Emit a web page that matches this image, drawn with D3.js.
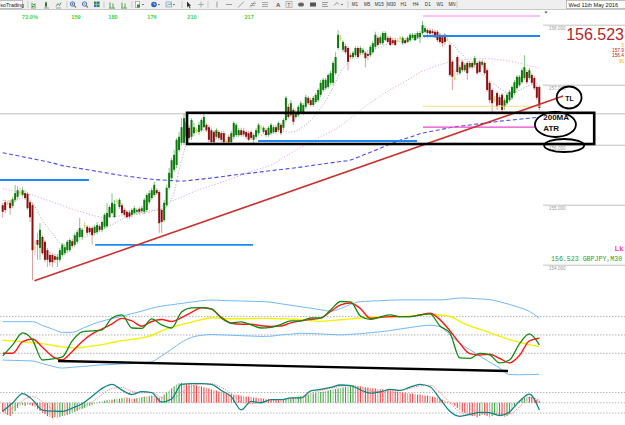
<!DOCTYPE html>
<html><head><meta charset="utf-8">
<script src="https://cdn.jsdelivr.net/npm/d3@7"></script>
<style>
html,body{margin:0;padding:0;background:#fff;}
svg{display:block;font-family:"Liberation Sans",Arial,sans-serif;}
</style></head><body>
<svg id="c" width="625" height="425"></svg>
<script>
// ---------------- DATA ----------------
// GBPJPY candles [open, high, low, close], oldest first
const ohlc = [
[155.00,155.04,154.79,154.89],[155.05,155.09,154.87,154.92],[155.04,155.07,155.00,155.03],[155.04,155.09,154.84,154.95],
[154.99,155.14,154.95,155.10],[155.09,155.34,155.05,155.20],[155.14,155.32,155.10,155.25],[155.22,155.29,155.17,155.21],
[155.17,155.30,155.14,155.25],[155.20,155.25,155.09,155.12],[155.19,155.22,154.92,154.95],[155.05,155.09,154.72,154.80],
[155.00,155.04,153.75,154.25],[154.30,154.42,154.17,154.29],[154.42,154.54,154.09,154.34],[154.29,154.70,154.09,154.59],
[154.47,154.50,154.17,154.20],[154.39,154.42,154.05,154.09],[154.25,154.29,153.97,154.09],[154.17,154.22,153.99,154.05],
[154.17,154.20,153.97,154.05],[154.15,154.19,154.04,154.09],[154.09,154.19,153.97,154.14],[154.09,154.29,154.05,154.25],
[154.17,154.37,154.14,154.34],[154.20,154.34,154.17,154.30],[154.25,154.42,154.20,154.39],[154.25,154.45,154.22,154.42],
[154.40,154.44,154.29,154.32],[154.34,154.54,154.30,154.50],[154.39,154.59,154.35,154.55],[154.47,154.79,154.45,154.62],
[154.47,154.62,154.42,154.59],[154.67,154.72,154.62,154.65],[154.64,154.67,154.50,154.54],[154.62,154.65,154.52,154.55],
[154.62,154.65,154.34,154.50],[154.54,154.67,154.50,154.64],[154.55,154.72,154.52,154.67],[154.65,154.69,154.55,154.59],
[154.59,154.75,154.55,154.72],[154.64,154.87,154.60,154.84],[154.65,155.04,154.62,154.87],[154.80,155.00,154.79,154.97],
[154.87,155.20,154.84,155.04],[154.80,155.09,154.79,155.02],[155.07,155.10,155.02,155.05],[154.97,155.12,154.94,155.09],
[155.00,155.04,154.84,154.87],[154.92,154.95,154.80,154.84],[154.89,154.92,154.77,154.80],[154.88,154.92,154.77,154.81],
[154.84,154.95,154.80,154.92],[154.87,154.99,154.84,154.95],[154.89,154.95,154.85,154.92],[154.94,154.97,154.85,154.89],
[154.90,154.99,154.87,154.95],[154.89,155.12,154.85,155.09],[154.92,155.20,154.89,155.17],[155.05,155.25,155.02,155.20],
[155.12,155.29,155.09,155.25],[155.17,155.39,155.14,155.34],[155.25,155.29,155.17,155.20],[155.22,155.25,154.54,154.70],
[154.92,154.95,154.54,154.72],[154.75,155.09,154.72,155.04],[155.00,155.34,154.97,155.29],[155.29,155.62,155.25,155.54],
[155.45,155.79,155.42,155.75],[155.59,155.92,155.55,155.84],[155.67,156.12,155.62,156.09],[155.92,156.22,155.89,156.14],
[156.04,156.45,156.00,156.30],[156.04,156.53,156.00,156.45],[156.14,156.47,156.09,156.39],[156.29,156.34,156.09,156.12],
[156.14,156.45,156.09,156.42],[156.20,156.37,156.15,156.30],[156.25,156.29,156.20,156.24],[156.22,156.39,156.17,156.34],
[156.25,156.45,156.22,156.42],[156.30,156.53,156.29,156.47],[156.34,156.37,156.22,156.25],[156.30,156.34,156.05,156.09],
[156.25,156.29,156.04,156.05],[156.22,156.25,156.04,156.05],[156.14,156.29,156.10,156.25],[156.22,156.25,156.07,156.12],
[156.20,156.24,156.05,156.09],[156.20,156.24,156.04,156.05],[156.07,156.10,156.04,156.06],[156.14,156.17,156.04,156.05],
[156.05,156.24,156.04,156.20],[156.14,156.40,156.10,156.37],[156.17,156.37,156.14,156.34],[156.17,156.29,156.14,156.25],
[156.25,156.29,156.14,156.17],[156.24,156.29,156.14,156.18],[156.22,156.25,156.10,156.14],[156.20,156.24,156.07,156.09],
[156.22,156.25,156.09,156.12],[156.09,156.20,156.04,156.17],[156.14,156.29,156.10,156.25],[156.20,156.37,156.17,156.34],
[156.30,156.34,156.25,156.29],[156.22,156.32,156.19,156.29],[156.25,156.29,156.14,156.17],[156.17,156.32,156.14,156.29],
[156.20,156.37,156.17,156.34],[156.22,156.34,156.19,156.30],[156.30,156.34,156.19,156.22],[156.25,156.40,156.22,156.37],
[156.34,156.37,156.17,156.20],[156.29,156.45,156.25,156.42],[156.42,156.82,156.39,156.79],[156.64,156.69,156.44,156.47],
[156.50,156.75,156.47,156.70],[156.59,156.62,156.34,156.39],[156.47,156.59,156.44,156.55],[156.50,156.67,156.47,156.64],
[156.55,156.74,156.52,156.70],[156.54,156.70,156.50,156.67],[156.64,156.84,156.60,156.80],[156.79,156.82,156.67,156.70],
[156.75,156.79,156.64,156.67],[156.67,156.82,156.64,156.79],[156.72,156.87,156.69,156.84],[156.75,156.95,156.72,156.92],
[156.84,157.09,156.80,157.04],[156.92,157.12,156.89,157.09],[156.95,157.12,156.92,157.09],[156.97,157.20,156.94,157.17],
[157.04,157.24,157.00,157.20],[157.04,157.40,157.00,157.37],[157.20,157.55,157.17,157.47],[157.62,157.92,157.59,157.84],
[157.77,157.84,157.74,157.79],[157.59,157.75,157.55,157.72],[157.65,157.69,157.52,157.55],[157.62,157.65,157.25,157.39],
[157.50,157.54,157.44,157.47],[157.47,157.57,157.44,157.54],[157.50,157.65,157.47,157.62],[157.62,157.65,157.44,157.47],
[157.54,157.65,157.50,157.62],[157.54,157.62,157.50,157.59],[157.54,157.57,157.30,157.45],[157.52,157.55,157.42,157.49],
[157.50,157.67,157.47,157.64],[157.55,157.74,157.52,157.70],[157.64,157.89,157.60,157.84],[157.79,157.82,157.64,157.67],
[157.70,157.84,157.67,157.80],[157.70,157.90,157.67,157.87],[157.75,157.90,157.74,157.87],[157.79,157.82,157.70,157.72],
[157.79,157.82,157.65,157.67],[157.75,157.79,157.67,157.70],[157.75,157.79,157.65,157.67],[157.75,157.79,157.72,157.74],
[157.79,157.82,157.75,157.78],[157.70,157.82,157.67,157.79],[157.75,157.79,157.69,157.70],[157.72,157.82,157.70,157.79],
[157.75,157.87,157.72,157.84],[157.79,157.87,157.77,157.84],[157.75,157.87,157.74,157.84],[157.79,157.90,157.77,157.87],
[157.80,157.90,157.70,157.87],[157.87,158.07,157.84,158.00],[157.89,157.99,157.87,157.95],[157.92,157.95,157.84,157.87],
[157.91,157.95,157.84,157.86],[157.90,157.94,157.84,157.87],[157.89,157.92,157.79,157.80],[157.89,157.92,157.72,157.75],
[157.84,157.87,157.69,157.72],[157.80,157.84,157.64,157.70],[157.84,157.87,157.67,157.72],[157.77,157.80,157.74,157.76],
[157.67,157.70,157.14,157.17],[157.39,157.42,156.92,157.14],[157.12,157.25,157.09,157.11],[157.47,157.50,157.17,157.22],
[157.20,157.34,157.17,157.30],[157.39,157.42,157.22,157.25],[157.25,157.37,157.22,157.34],[157.37,157.40,157.09,157.20],
[157.30,157.40,157.27,157.37],[157.37,157.40,157.27,157.30],[157.34,157.49,157.30,157.45],[157.37,157.40,157.17,157.20],
[157.39,157.42,157.20,157.22],[157.34,157.42,157.30,157.39],[157.37,157.40,157.17,157.20],[157.25,157.29,156.89,156.92],
[157.04,157.07,156.70,156.75],[156.92,156.95,156.55,156.70],[156.77,156.82,156.72,156.75],[156.87,156.90,156.59,156.64],
[156.80,156.84,156.64,156.67],[156.84,156.87,156.55,156.59],[156.64,156.79,156.59,156.75],[156.70,156.87,156.67,156.84],
[156.75,156.92,156.72,156.89],[156.79,157.00,156.75,156.97],[156.87,157.09,156.84,157.05],[156.95,157.17,156.92,157.14],
[157.00,157.17,156.97,157.14],[157.05,157.29,157.02,157.25],[157.12,157.50,157.09,157.30],[157.22,157.25,157.02,157.05],
[157.12,157.29,157.09,157.25],[157.17,157.20,157.00,157.04],[157.12,157.15,156.92,156.95],[156.97,157.00,156.75,156.79],
[156.97,157.00,156.58,156.62]
];
const lastPrice = 156.523;
const symbolLabel = "156.523 GBPJPY,M30";
const gridPrices = [158, 157, 156, 155, 154];
const sideSmall = ["5", "157.9", "156.4", "96"];

// indicator samples, one every 4th bar (bar 0, 4, 8 ... 216)
const ma200  = [155.875,155.842,155.808,155.775,155.740,155.707,155.660,155.633,155.605,155.578,155.550,155.522,155.495,155.473,155.452,155.432,155.420,155.410,155.402,155.418,155.435,155.453,155.475,155.497,155.517,155.535,155.555,155.575,155.595,155.615,155.635,155.658,155.682,155.705,155.728,155.752,155.817,155.883,155.950,156.017,156.083,156.133,156.192,156.227,156.258,156.292,156.317,156.337,156.358,156.378,156.400,156.417,156.433,156.450,156.467];
const maSlow = [155.274,155.239,155.204,155.167,155.112,155.054,154.995,154.934,154.884,154.834,154.800,154.810,154.822,154.834,154.859,154.895,154.984,155.067,155.134,155.209,155.275,155.325,155.384,155.442,155.500,155.559,155.609,155.667,155.767,155.867,155.967,156.059,156.142,156.225,156.325,156.450,156.584,156.709,156.817,156.925,157.017,157.109,157.217,157.284,157.342,157.384,157.417,157.434,157.442,157.442,157.425,157.400,157.367,157.325,157.284];
const maFast = [155.083,155.067,155.117,155.033,154.750,154.533,154.350,154.383,154.450,154.517,154.600,154.675,154.767,154.850,154.883,154.908,154.933,155.100,155.750,156.217,156.250,156.233,156.200,156.167,156.167,156.183,156.167,156.200,156.233,156.217,156.283,156.417,156.617,156.883,157.217,157.417,157.533,157.583,157.633,157.700,157.733,157.750,157.783,157.800,157.783,157.717,157.550,157.383,157.217,157.083,156.950,156.867,156.917,157.000,157.033];

const rsiFast = [27.1,39.1,52.2,44.5,22.7,23.8,26.0,43.5,53.3,54.4,55.5,68.5,71.8,57.6,57.1,67.5,60.9,57.6,75.1,79.5,79.8,78.4,68.5,63.1,64.2,60.9,57.6,58.2,61.5,65.3,65.3,68.5,68.5,77.3,86.5,86.0,70.7,66.9,69.6,71.8,70.0,70.0,71.8,72.9,59.8,52.2,24.9,24.4,29.8,28.2,19.5,22.7,40.2,51.1,39.1];
const rsiSlow = [30.0,30.0,42.7,45.6,36.5,26.7,22.9,32.0,42.9,51.1,56.5,62.2,68.1,65.3,59.5,64.7,66.8,64.7,69.0,74.7,79.7,78.1,69.1,62.8,61.7,61.7,60.1,59.3,59.8,63.1,65.3,66.9,68.3,75.6,82.7,84.9,78.7,68.2,69.2,70.0,70.0,70.0,71.8,73.7,66.7,54.6,40.9,29.6,28.2,28.9,24.6,19.5,27.6,43.5,46.4];
const rsiAvg  = [44.3,43.5,42.5,41.6,40.5,38.7,37.0,35.9,36.3,37.9,39.5,41.7,43.8,45.2,46.8,49.7,54.4,58.5,61.2,64.0,66.7,68.8,68.1,67.6,67.7,67.9,68.1,68.0,67.7,67.3,66.9,65.7,64.8,65.6,66.5,67.5,68.5,69.4,69.6,69.9,70.0,70.8,71.8,72.7,71.7,70.1,64.8,59.8,56.3,52.6,48.7,44.9,42.0,39.5,37.2];
const bandUp  = [64.5,64.5,64.5,64.5,60.3,56.5,52.9,52.8,57.0,61.5,65.1,67.8,70.5,73.2,76.0,79.1,81.5,82.9,84.4,85.9,87.3,88.1,87.6,87.3,87.0,86.7,86.4,85.7,84.0,82.4,80.8,79.1,77.5,75.9,78.7,83.3,86.4,86.9,87.4,87.9,88.2,88.2,88.2,88.2,88.2,89.1,90.3,90.1,89.3,88.6,86.2,83.3,79.9,75.7,68.3];
const bandLow = [22.6,22.3,22.0,21.6,18.7,15.9,13.9,14.8,15.6,16.5,17.4,17.8,18.4,18.8,19.3,20.8,27.2,34.5,42.1,47.4,49.6,50.5,50.1,49.7,49.2,48.8,48.4,48.6,50.1,50.8,51.9,51.5,51.1,50.5,50.1,50.7,51.3,52.5,53.4,54.8,56.5,58.1,59.7,60.6,59.1,49.9,40.8,34.0,27.0,20.4,14.0,6.8,6.6,6.8,7.1];
const rsiLevels = [30, 50, 70];

const macdLine = [-0.80,-0.03,0.90,0.30,-0.72,-0.82,-0.84,-0.52,-0.10,0.63,1.40,1.80,1.23,0.80,1.08,0.99,0.07,0.37,1.80,1.87,1.87,1.80,1.20,0.60,-0.70,0.13,0.00,0.30,0.30,0.47,0.47,1.15,1.30,1.49,1.73,1.67,1.26,0.94,1.06,1.30,1.20,1.53,1.80,1.56,0.38,-0.83,-1.32,-1.14,-0.93,-0.97,-1.25,-0.90,0.14,0.84,-0.70];
const macdSignal = [-0.9,-0.5,0.2,0.6,0.1,-0.6,-0.8,-0.7,-0.4,0.1,0.8,1.4,1.5,1.1,0.95,1.0,0.5,0.3,1.0,1.6,1.85,1.85,1.5,0.9,0.1,-0.1,0.05,0.2,0.3,0.4,0.45,0.9,1.2,1.4,1.6,1.7,1.5,1.15,1.05,1.2,1.2,1.4,1.65,1.7,1.0,0.0,-0.9,-1.2,-1.1,-1.0,-1.1,-1.1,-0.4,0.5,0.3];
// histogram, one value per bar
const macdHist = [
-0.9,-1.1,-1.2,-1.3,-1.1,-0.8,
-0.5,-0.3,-0.2,-0.3,-0.2,-0.2,-0.3,-0.4,
-0.6,-0.8,-1.0,-1.1,-1.3,-1.4,-1.5,-1.4,-1.5,-1.4,-1.3,-1.3,-1.2,-1.1,
-1.0,-0.9,-0.8,-0.7,-0.6,-0.5,-0.4,-0.3,
-0.2,-0.1,0.0,0.1,0.15,0.2,0.25,0.3,
0.3,0.35,0.4,0.4,0.45,0.5,0.5,0.45,0.4,0.4,0.45,0.5,0.55,0.6,0.6,0.65,0.7,0.7,0.6,
0.5,0.6,0.8,1.0,1.2,1.4,1.6,1.8,1.9,1.95,1.9,1.85,1.8,
1.8,1.75,1.7,1.65,1.6,1.5,1.45,1.4,1.3,1.25,1.2,1.1,1.05,1.0,0.95,0.9,0.85,0.8,0.8,0.75,
0.7,0.65,0.6,0.6,0.55,0.5,0.5,0.45,0.45,0.4,0.4,0.35,0.35,0.3,0.3,0.3,0.25,
0.3,0.35,0.4,0.45,0.5,0.55,0.6,0.65,
0.7,0.75,0.8,0.85,0.9,0.95,1.0,1.05,1.1,1.15,1.2,1.25,1.3,1.35,1.4,1.45,1.5,1.55,1.6,1.65,1.7,
1.65,1.6,1.6,1.55,1.5,1.5,1.45,1.4,1.4,1.35,1.3,1.3,1.25,1.2,1.2,1.15,1.1,1.1,1.05,1.0,1.0,0.95,0.9,0.9,0.85,0.8,0.8,0.75,0.7,0.7,0.65,0.6,0.55,0.5,0.4,
0.3,0.2,0.1,0.0,-0.1,
-0.3,-0.5,-0.7,-0.9,-1.0,-1.1,-1.2,-1.3,-1.3,-1.4,-1.3,-1.2,-1.2,-1.3,-1.4,-1.3,-1.2,-1.1,-1.2,-1.3,-1.4,-1.3,-1.1,
-0.7,-0.3,0.0,0.2,0.4,0.5,0.6,0.6,0.55,
0.4,0.3,0.2];
const macdLevels = [1, 0, -1];

// drawn objects (bar index, price)
const levelPrices = [155.42, 154.34, 156.07, 157.82];
const levelFrom   = [-1.5, 37.2, 102.8, 169.2];
const levelTo     = [34.7, 100.8, 166.8, 216.3];
const trendLine   = [[12.8, 153.74], [225.6, 156.82]];
const zoneBars    = [74.2, 238.1];
const zonePrices  = [156.54, 156.02];
const yellowLevel = {price: 156.65, from: 169.2, to: 216.3};
const pinkLevel   = {price: 156.30, from: 169.2, to: 214.3};
const topLevel    = {price: 158.153, from: 169.2, to: 216.3};
const noteEllipses = [[228.0, 156.795, 5.0, 0.183], [222.5, 156.345, 8.25, 0.208], [226.0, 155.995, 8.05, 0.108]];
const noteTexts = ["TL", "200MA", "ATR"];
const noteBars  = [226.4, 217.6, 217.6];
const notePrices= [156.74, 156.425, 156.245];
const rsiTrend = [[22.3, 21.6], [203.4, 10.7]];

const countLabels = ["72.0%", "159", "180", "176", "210", "217"];
const countBars   = [11, 29.5, 44.4, 60.1, 76.2, 99.2];
const timeframes = ["M1","M5","M15","M30","H1","H4","D1","W1","MN"];
const dateLabel = "Wed 11th May 2016";

// ---------------- SCALES ----------------
const svg = d3.select('#c');
const sampleBars = d3.range(0, 217, 4);
const x  = d3.scaleLinear().domain([0, 216]).range([2.7, 539.3]);
const y  = d3.scaleLinear().domain([154, 158]).range([265.2, 25.2]);
const yR = d3.scaleLinear().domain([0, 100]).range([380.8, 289.1]);
const yM = d3.scaleLinear().domain([-1, 1]).range([413, 392.5]);

svg.append('rect').attr('width', 625).attr('height', 425).attr('fill', '#fff');

// ---------------- TOOLBAR ----------------
const tb = svg.append('g');
tb.append('rect').attr('x', 0).attr('y', 0).attr('width', 625).attr('height', 9).attr('fill', '#efefef');
tb.append('line').attr('x1', 0).attr('x2', 625).attr('y1', 9.5).attr('y2', 9.5).attr('stroke', '#c8c8c8');
tb.append('rect').attr('x', -1).attr('y', 0.5).attr('width', 23.5).attr('height', 8).attr('fill', '#f8f8f8').attr('stroke', '#999').attr('stroke-width', 0.6);
tb.append('text').attr('x', 0.3).attr('y', 6.6).attr('font-size', 5.4).attr('fill', '#222').text('soTrading');
[28, 67, 104, 132, 182, 208, 348].forEach(sx => tb.append('line').attr('x1', sx).attr('x2', sx).attr('y1', 1).attr('y2', 8).attr('stroke', '#bbb').attr('stroke-width', 0.7));
function icon(ix, kind) {
  const gI = tb.append('g').attr('transform', `translate(${ix},1.5)`);
  const st = (c, w) => ({stroke: c, 'stroke-width': w || 0.8, fill: 'none'});
  const ap = (el, o) => { Object.entries(o).forEach(([k, v]) => el.attr(k, v)); return el; };
  if (kind === 'bar') { ap(gI.append('path').attr('d', 'M1,6V1M1,5H3M4,6V2M4,3H2'), st('#2a8a2a')); ap(gI.append('path').attr('d','M0,6.5H5'), st('#555',0.5)); }
  if (kind === 'cndl') { gI.append('rect').attr('x', 1).attr('y', 1).attr('width', 2).attr('height', 4).attr('fill', '#2a8a2a'); ap(gI.append('path').attr('d','M2,0V6M0,6.5H5'), st('#444',0.5)); }
  if (kind === 'lin') { ap(gI.append('path').attr('d', 'M0,5L2,2L3.5,4L5,1'), st('#2a8a2a')); ap(gI.append('path').attr('d','M0,6.5H5'), st('#444',0.5)); }
  if (kind === 'zin' || kind === 'zout') { ap(gI.append('circle').attr('cx', 2.5).attr('cy', 2.5).attr('r', 2.2), st('#3a6fb0', 0.9)); ap(gI.append('path').attr('d', kind === 'zin' ? 'M1.3,2.5H3.7M2.5,1.3V3.7' : 'M1.3,2.5H3.7'), st('#3a6fb0', 0.7)); ap(gI.append('path').attr('d', 'M4,4L6,6'), st('#a07030', 1.1)); }
  if (kind === 'grid') { [['#2a9a2a',0,0],['#3a6fd0',3,0],['#3a6fd0',0,3],['#2a9a2a',3,3]].forEach(t => gI.append('rect').attr('x', t[1]).attr('y', t[2]).attr('width', 2.6).attr('height', 2.6).attr('fill', t[0])); }
  if (kind === 'shift') { ap(gI.append('path').attr('d', 'M1,6V1M4,6V2M0,6.5H6'), st('#2a8a2a')); }
  if (kind === 'new') { gI.append('rect').attr('x', 0.5).attr('y', 0).attr('width', 4).attr('height', 6).attr('fill', '#fff').attr('stroke', '#777').attr('stroke-width', 0.5); gI.append('rect').attr('x', 2).attr('y', 3).attr('width', 3).attr('height', 3).attr('fill', '#2a9a2a'); gI.append('path').attr('d', 'M7,2.5L9,2.5L8,3.7Z').attr('fill', '#333'); }
  if (kind === 'clock') { gI.append('circle').attr('cx', 3).attr('cy', 3).attr('r', 2.8).attr('fill', '#2a64c0'); ap(gI.append('path').attr('d', 'M3,1.2V3H4.5'), st('#fff', 0.6)); gI.append('path').attr('d', 'M7,2.5L9,2.5L8,3.7Z').attr('fill', '#333'); }
  if (kind === 'tmpl') { gI.append('rect').attr('x', 0).attr('y', 0.5).attr('width', 5.5).attr('height', 5).attr('fill', '#e8f0ff').attr('stroke', '#5577aa').attr('stroke-width', 0.5); ap(gI.append('path').attr('d', 'M1,4L2.5,2.5L4,3.5L5,1.5'), st('#2a8a2a', 0.6)); gI.append('path').attr('d', 'M7,2.5L9,2.5L8,3.7Z').attr('fill', '#333'); }
  if (kind === 'arrow') { gI.append('path').attr('d', 'M1,0L1,6L2.5,4.5L3.8,7L4.6,6.6L3.4,4.2L5.2,4.2Z').attr('fill', '#333'); }
  if (kind === 'cross') { ap(gI.append('path').attr('d', 'M3,0V6M0,3H6'), st('#888', 0.6)); }
  if (kind === 'vl') { ap(gI.append('path').attr('d', 'M3,0V6'), st('#777', 0.7)); }
  if (kind === 'hl') { ap(gI.append('path').attr('d', 'M0,3H6'), st('#777', 0.7)); }
  if (kind === 'tl') { ap(gI.append('path').attr('d', 'M0,6L6,0'), st('#777', 0.7)); }
  if (kind === 'fib') { ap(gI.append('path').attr('d', 'M0,6L5,0M1,2H6M0,4H5'), st('#777', 0.6)); }
  if (kind === 'chan') { ap(gI.append('path').attr('d', 'M0,1H6M0,3H6M0,5H6'), st('#777', 0.6)); }
  if (kind === 'A') { gI.append('text').attr('x', 1).attr('y', 5.5).attr('font-size', 6).attr('font-weight', 'bold').attr('fill', '#555').text('A'); }
  if (kind === 'T') { gI.append('rect').attr('x', 0).attr('y', 0).attr('width', 6).attr('height', 6).attr('fill', 'none').attr('stroke', '#888').attr('stroke-width', 0.5); gI.append('text').attr('x', 1.2).attr('y', 5.2).attr('font-size', 5.5).attr('fill', '#555').text('T'); }
  if (kind === 'ell') { gI.append('ellipse').attr('cx', 3).attr('cy', 3).attr('rx', 3).attr('ry', 2).attr('fill', '#666'); }
  if (kind === 'rect') { gI.append('rect').attr('x', 0).attr('y', 1).attr('width', 6).attr('height', 4).attr('fill', '#555'); }
  if (kind === 'lines') { ap(gI.append('path').attr('d', 'M0,1H6M0,3H5M0,5H6'), st('#666', 0.6)); }
  if (kind === 'arrows') { ap(gI.append('path').attr('d', 'M0,4L3,1L5,3'), st('#666', 0.7)); gI.append('path').attr('d', 'M7,2.5L9,2.5L8,3.7Z').attr('fill', '#333'); }
}
[[31,'bar'],[44,'cndl'],[56,'lin'],[70,'zin'],[82,'zout'],[94,'grid'],[109,'shift'],[121,'shift'],[135,'new'],[151,'clock'],[166,'tmpl'],[186,'arrow'],[198,'cross'],[214,'vl'],[226,'hl'],[238,'tl'],[250,'fib'],[262,'chan'],[275,'A'],[286,'T'],[298,'ell'],[310,'rect'],[322,'lines'],[334,'arrows']].forEach(d => icon(d[0], d[1]));
const tfX = d3.scalePoint().domain(timeframes).range([355, 452]);
tb.selectAll('text.tf').data(timeframes).join('text').attr('class', 'tf')
  .attr('x', d => tfX(d)).attr('y', 6.4).attr('text-anchor', 'middle').attr('font-size', 4.6).attr('fill', '#333').text(d => d);
[386.5, 457].forEach(sx => tb.append('line').attr('x1', sx).attr('x2', sx).attr('y1', 1).attr('y2', 8).attr('stroke', '#bbb').attr('stroke-width', 0.7));
tb.append('rect').attr('x', 566.5).attr('y', 0.5).attr('width', 60).attr('height', 8).attr('fill', '#fff').attr('stroke', '#999').attr('stroke-width', 0.6);
tb.append('text').attr('x', 568.5).attr('y', 6.5).attr('font-size', 5.6).attr('fill', '#111').text(dateLabel);
svg.append('path').attr('d', 'M544.5,11.5h3l-1.5,2z').attr('fill', '#444');

// counter labels
svg.selectAll('text.cnt').data(countLabels).join('text').attr('class', 'cnt')
  .attr('x', (d, i) => x(countBars[i])).attr('y', 18.5).attr('text-anchor', 'middle')
  .attr('font-size', 5.6).attr('font-weight', 'bold').attr('fill', '#3fd43f').text(d => d);

// ---------------- MAIN CHART ----------------
const main = svg.append('g');
main.selectAll('line.gp').data(gridPrices).join('line').attr('class', 'gp')
  .attr('x1', 543).attr('x2', 625).attr('y1', d => y(d)).attr('y2', d => y(d)).attr('stroke', '#b4b4b4').attr('stroke-width', 0.8);
main.selectAll('text.gp').data(gridPrices).join('text').attr('class', 'gp')
  .attr('x', 549).attr('y', d => y(d) + 5).attr('font-size', 4.6).attr('fill', '#9a9a9a').text(d => d3.format('.3f')(d));
main.append('line').attr('x1', 0).attr('x2', 625).attr('y1', y(lastPrice)).attr('y2', y(lastPrice)).attr('stroke', '#b0b0b0').attr('stroke-width', 0.8);

const lineP = d3.line().x((d, k) => x(sampleBars[k])).y(d => y(d)).curve(d3.curveMonotoneX);
main.append('path').attr('d', lineP(maSlow)).attr('fill', 'none').attr('stroke', '#e6a6e6').attr('stroke-width', 1).attr('stroke-dasharray', '1.2,1.8');
main.append('path').attr('d', lineP(maFast)).attr('fill', 'none').attr('stroke', '#a8a8a8').attr('stroke-width', 1).attr('stroke-dasharray', '1,1.8');
main.append('path').attr('d', lineP(ma200)).attr('fill', 'none').attr('stroke', '#4b4bf0').attr('stroke-width', 1.1).attr('stroke-dasharray', '4,2.5');

const kind = d => Math.abs(d[0] - d[3]) < 0.025 ? 'doji' : (d[3] > d[0] ? 'up' : 'dn');
const wickCol = {up: '#86c486', dn: '#dba0a0', doji: '#cfc9a0'};
const bodyCol = {up: '#0c7a0c', dn: '#8c1010', doji: '#f0dc00'};
const cg = main.append('g');
const cs = cg.selectAll('g').data(ohlc).join('g');
cs.append('line').attr('x1', (d, i) => x(i)).attr('x2', (d, i) => x(i))
  .attr('y1', d => y(d[1])).attr('y2', d => y(d[2])).attr('stroke', d => wickCol[kind(d)]).attr('stroke-width', 1);
cs.append('rect').attr('x', (d, i) => x(i) - 1).attr('width', 2)
  .attr('y', d => y(Math.max(d[0], d[3])))
  .attr('height', d => Math.max(1.3, Math.abs(y(d[0]) - y(d[3]))))
  .attr('fill', d => bodyCol[kind(d)]);

main.selectAll('line.lv').data(levelPrices).join('line').attr('class', 'lv')
  .attr('x1', (d, i) => x(levelFrom[i])).attr('x2', (d, i) => x(levelTo[i]))
  .attr('y1', d => y(d)).attr('y2', d => y(d)).attr('stroke', '#1e88f0').attr('stroke-width', 1.8);
[[yellowLevel, '#efe07a', 1], [pinkLevel, '#ee44cc', 1.2], [topLevel, '#ff80ff', 1.2]].forEach(([lv, col, w]) => {
  main.append('line').attr('x1', x(lv.from)).attr('x2', x(lv.to)).attr('y1', y(lv.price)).attr('y2', y(lv.price)).attr('stroke', col).attr('stroke-width', w);
});
main.append('line').attr('x1', x(trendLine[0][0])).attr('y1', y(trendLine[0][1]))
  .attr('x2', x(trendLine[1][0])).attr('y2', y(trendLine[1][1])).attr('stroke', '#c83232').attr('stroke-width', 1.6);
main.append('rect').attr('x', x(zoneBars[0])).attr('y', y(zonePrices[0]))
  .attr('width', x(zoneBars[1]) - x(zoneBars[0])).attr('height', y(zonePrices[1]) - y(zonePrices[0]))
  .attr('fill', 'none').attr('stroke', '#000').attr('stroke-width', 2.6);
main.selectAll('ellipse.nt').data(noteEllipses).join('ellipse').attr('class', 'nt')
  .attr('cx', d => x(d[0])).attr('cy', d => y(d[1]))
  .attr('rx', d => x(d[0] + d[2]) - x(d[0])).attr('ry', d => y(d[1] - d[3]) - y(d[1]))
  .attr('fill', 'none').attr('stroke', '#000').attr('stroke-width', 1.8);
main.selectAll('text.nt').data(noteTexts).join('text').attr('class', 'nt')
  .attr('x', (d, i) => x(noteBars[i])).attr('y', (d, i) => y(notePrices[i]))
  .attr('font-size', (d, i) => i === 0 ? 7 : 8).attr('font-weight', 'bold').attr('fill', '#111').text(d => d);

// right-hand texts
const rt = svg.append('g');
rt.append('text').attr('x', 624).attr('y', 39.5).attr('text-anchor', 'end').attr('font-size', 16).attr('fill', '#b0272a').text(d3.format('.3f')(lastPrice));
rt.append('text').attr('x', 624).attr('y', 46.5).attr('text-anchor', 'end').attr('font-size', 4.6).attr('fill', '#e0c000').text(sideSmall[0]);
rt.append('text').attr('x', 624).attr('y', 51.8).attr('text-anchor', 'end').attr('font-size', 4.8).attr('fill', '#b02020').text(sideSmall[1]);
rt.append('text').attr('x', 624).attr('y', 57.2).attr('text-anchor', 'end').attr('font-size', 4.8).attr('fill', '#b02020').text(sideSmall[2]);
rt.append('text').attr('x', 624).attr('y', 62.6).attr('text-anchor', 'end').attr('font-size', 4.8).attr('fill', '#e8c000').text(sideSmall[3]);
rt.append('text').attr('x', 623.5).attr('y', 251).attr('text-anchor', 'end').attr('font-size', 7.5).attr('font-weight', 'bold').attr('fill', '#ff3fb0').text('Lk');
rt.append('text').attr('x', 551).attr('y', 261).attr('font-size', 6.6).attr('font-family', '"Liberation Mono",monospace').attr('fill', '#2e9e2e').text(symbolLabel);

// ---------------- RSI PANEL ----------------
const p1 = svg.append('g');
p1.selectAll('line.lvl').data(rsiLevels).join('line').attr('class', 'lvl')
  .attr('x1', 0).attr('x2', 625).attr('y1', d => yR(d)).attr('y2', d => yR(d))
  .attr('stroke', '#a0a0a0').attr('stroke-width', 0.8).attr('stroke-dasharray', '1.5,1.5');
const lineR = d3.line().x((d, k) => x(sampleBars[k])).y(d => yR(d)).curve(d3.curveMonotoneX);
[[bandUp, '#74b8f4', 1], [bandLow, '#74b8f4', 1], [rsiAvg, '#f4f000', 1.4], [rsiSlow, '#ff1a1a', 1.4], [rsiFast, '#138a13', 1.3]].forEach(([arr, col, w]) => {
  p1.append('path').attr('d', lineR(arr)).attr('fill', 'none').attr('stroke', col).attr('stroke-width', w);
});
p1.append('line').attr('x1', x(rsiTrend[0][0])).attr('y1', yR(rsiTrend[0][1]))
  .attr('x2', x(rsiTrend[1][0])).attr('y2', yR(rsiTrend[1][1])).attr('stroke', '#000').attr('stroke-width', 2.4);

// ---------------- MACD PANEL ----------------
const p2 = svg.append('g');
p2.selectAll('line.lvl').data(macdLevels).join('line').attr('class', 'lvl')
  .attr('x1', 0).attr('x2', 625).attr('y1', d => yM(d)).attr('y2', d => yM(d))
  .attr('stroke', '#a8a8a8').attr('stroke-width', 0.8).attr('stroke-dasharray', '1.5,1.5');
p2.selectAll('rect.h').data(macdHist).join('rect').attr('class', 'h')
  .attr('x', (d, i) => x(i) - 0.55).attr('width', 1.1)
  .attr('y', d => Math.min(yM(0), yM(d))).attr('height', d => Math.max(0.5, Math.abs(yM(d) - yM(0))))
  .attr('fill', (d, i) => (i > 0 && d > macdHist[i - 1]) ? '#3f9f3f' : '#f23a3a')
  .attr('opacity', (d, i) => i % 3 === 1 ? 0.55 : 0.95);
const lineM = d3.line().x((d, k) => x(sampleBars[k])).y(d => yM(d)).curve(d3.curveMonotoneX);
p2.append('path').attr('d', lineM(macdSignal)).attr('fill', 'none').attr('stroke', '#ff7a7a').attr('stroke-width', 1).attr('stroke-dasharray', '1.2,1.2');
p2.append('path').attr('d', lineM(macdLine)).attr('fill', 'none').attr('stroke', '#0f8585').attr('stroke-width', 1.3);
</script>
</body></html>
